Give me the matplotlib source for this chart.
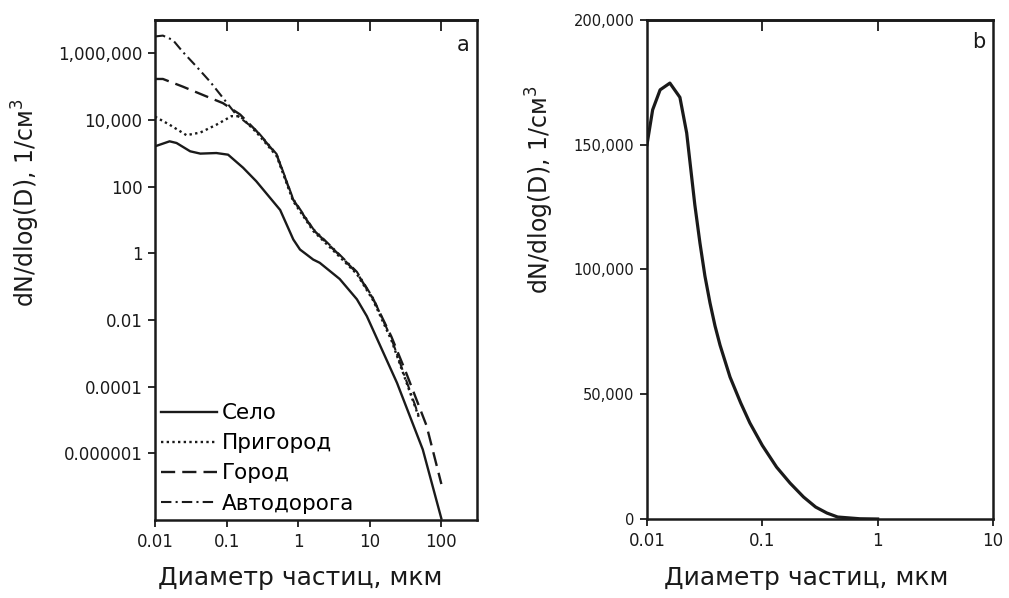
import matplotlib
matplotlib.use('Agg')
import matplotlib.pyplot as plt

plt.rcParams['font.family'] = ['DejaVu Sans']
plt.rcParams['mathtext.fontset'] = 'dejavusans'

# panel a: size distributions (diameter, um / dN/dlogD, 1/cm3)
selo_d = [0.01, 0.016, 0.02, 0.031, 0.043, 0.072, 0.105, 0.17, 0.26, 0.56,
          0.855, 1.06, 1.32, 1.62, 2.0, 3.8, 6.6, 9.1, 24, 55, 100]
selo_n = [1620, 2290, 2040, 1150, 980, 1020, 910, 370, 145, 20,
          2.6, 1.3, 0.91, 0.65, 0.52, 0.17, 0.042, 0.013, 1.3e-4, 1.3e-6, 1.1e-8]

prigorod_d = [0.01, 0.016, 0.0275, 0.043, 0.072, 0.117, 0.155, 0.263, 0.50, 0.85,
              1.62, 3.47, 6.6, 11.2, 20, 50]
prigorod_n = [1.26e4, 7.2e3, 3.5e3, 4.2e3, 7.2e3, 1.3e4, 1.3e4, 4.2e3, 830, 37,
              4.7, 0.95, 0.24, 0.038, 2.5e-3, 1.0e-5]

gorod_d = [0.01, 0.0129, 0.0245, 0.047, 0.089, 0.155, 0.263, 0.50, 0.85, 1.62,
           3.47, 6.6, 11.2, 20, 32, 62, 100]
gorod_n = [1.7e5, 1.7e5, 1.0e5, 5.6e4, 3.2e4, 1.45e4, 4.6e3, 910, 41, 5.1,
           1.05, 0.26, 0.042, 3.2e-3, 2.7e-4, 6.8e-6, 1.2e-7]

avto_d = [0.01, 0.0129, 0.0178, 0.0245, 0.038, 0.059, 0.089, 0.138, 0.263, 0.50,
          0.85, 1.62, 3.47, 6.6, 11.2, 20, 50]
avto_n = [3.2e6, 3.4e6, 2.5e6, 1.1e6, 4.0e5, 1.4e5, 4.6e4, 1.4e4, 4.8e3, 950,
          43, 5.4, 1.1, 0.28, 0.044, 2.8e-3, 1.1e-5]

# panel b
b_d = [0.01, 0.0112, 0.013, 0.0158, 0.0193, 0.0221, 0.026, 0.0288, 0.0318, 0.0352,
       0.0389, 0.043, 0.0525, 0.065, 0.078, 0.1, 0.133, 0.174, 0.228, 0.29,
       0.363, 0.45, 0.7, 1.0]
b_n = [150000, 164000, 172000, 174700, 169000, 154700, 125900, 110600, 97400, 86600,
       77400, 69700, 56900, 46500, 38500, 29500, 20800, 14400, 8800, 4800,
       2400, 800, 100, 0]

a_yticks = [1e6, 1e4, 1e2, 1, 1e-2, 1e-4, 1e-6]
a_ylabels = ['1,000,000', '10,000', '100', '1', '0.01', '0.0001', '0.000001']
a_xticks = [0.01, 0.1, 1, 10, 100]
a_xlabels = ['0.01', '0.1', '1', '10', '100']
b_xticks = [0.01, 0.1, 1, 10]
b_xlabels = ['0.01', '0.1', '1', '10']
b_yticks = [0, 50000, 100000, 150000, 200000]
b_ylabels = ['0', '50,000', '100,000', '150,000', '200,000']

xlab = 'Диаметр частиц, мкм'
ylab = 'dN/dlog(D), 1/см$^3$'
ink = '#1a1a1a'

fig = plt.figure(figsize=(10.09, 5.98), dpi=100)
ax1 = fig.add_axes([0.1536, 0.1304, 0.3192, 0.8362])
ax2 = fig.add_axes([0.6412, 0.1321, 0.3429, 0.8345])

# --- a ---
ax1.plot(selo_d, selo_n, color=ink, lw=1.7, ls='-', label='Село')
ax1.plot(prigorod_d, prigorod_n, color=ink, lw=1.7, ls=(0, (1.0, 1.4)), label='Пригород')
ax1.plot(gorod_d, gorod_n, color=ink, lw=1.7, ls=(0, (6, 3)), label='Город')
ax1.plot(avto_d, avto_n, color=ink, lw=1.5, ls=(0, (5, 2, 1, 2)), label='Автодорога')
ax1.set_xscale('log')
ax1.set_yscale('log')
ax1.set_xlim(0.01, 315)
ax1.set_ylim(1e-8, 1e7)
ax1.set_yticks(a_yticks, a_ylabels)
ax1.set_xticks(a_xticks, a_xlabels)
ax1.minorticks_off()
ax1.text(0.957, 0.95, 'a', transform=ax1.transAxes, ha='center', va='center',
         fontsize=15, color=ink)
ax1.legend(loc='lower left', frameon=False, fontsize=15.5, handlelength=2.6,
           handletextpad=0.2, labelspacing=0.47, borderaxespad=0.0,
           borderpad=0.3)

# --- b ---
ax2.plot(b_d, b_n, color=ink, lw=2.3)
ax2.set_xscale('log')
ax2.set_xlim(0.01, 10)
ax2.set_ylim(0, 200000)
ax2.set_yticks(b_yticks, b_ylabels)
ax2.set_xticks(b_xticks, b_xlabels)
ax2.minorticks_off()
ax2.text(0.96, 0.955, 'b', transform=ax2.transAxes, ha='center', va='center',
         fontsize=15, color=ink)

for ax, tops in ((ax1, [0.1, 1, 10, 100]), (ax2, [0.1, 1])):
    for s in ax.spines.values():
        s.set_linewidth(1.8)
        s.set_color(ink)
    ax.tick_params(axis='both', which='major', direction='out', length=5,
                   width=1.3, labelsize=12, colors=ink, pad=4)
    sec = ax.secondary_xaxis('top')
    sec.set_xticks(tops)
    sec.set_xticklabels([])
    sec.tick_params(direction='in', length=8, width=1.3, colors=ink)
    sec.minorticks_off()
    sec.spines['top'].set_linewidth(1.8)
    ax.set_xlabel(xlab, fontsize=18, color=ink, va='center')
    ax.set_ylabel(ylab, fontsize=17, color=ink, va='center')

ax2.tick_params(axis='y', labelsize=10.5)

ax1.xaxis.set_label_coords(0.45, -0.116)
ax1.yaxis.set_label_coords(-0.40, 0.634)
ax2.xaxis.set_label_coords(0.46, -0.118)
ax2.yaxis.set_label_coords(-0.309, 0.66)

fig.savefig('out.png', dpi=100)
